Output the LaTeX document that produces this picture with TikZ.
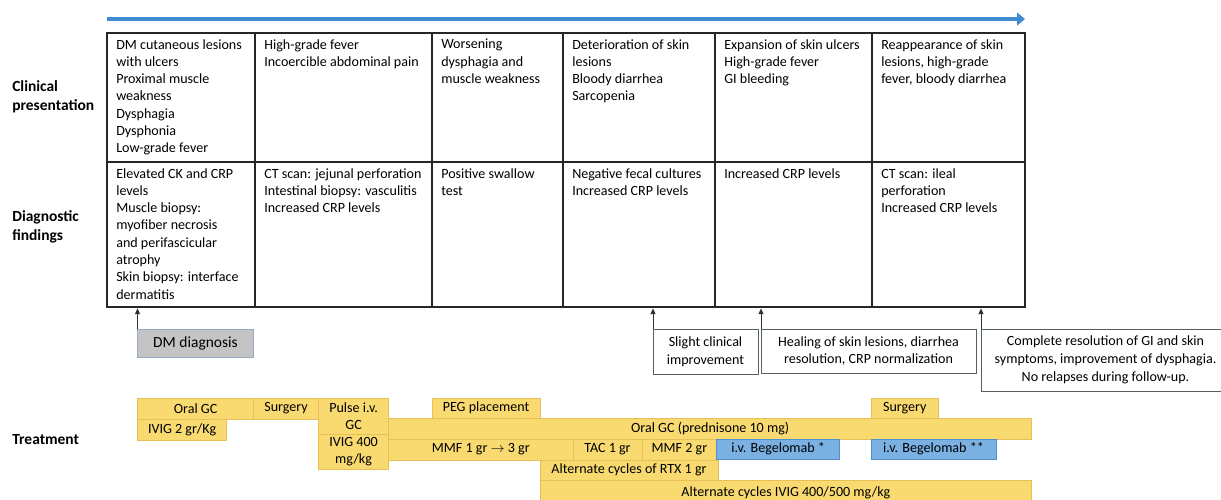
\documentclass[tikz,border=0pt]{standalone}
\usepackage{fontspec}
\setmainfont{Carlito}
\usetikzlibrary{positioning, calc, arrows.meta}

\definecolor{timeblue}{RGB}{66,138,208}
\definecolor{rxyellow}{RGB}{248,218,112}
\definecolor{rxedge}{RGB}{232,190,88}
\definecolor{mabblue}{RGB}{122,176,226}
\definecolor{mabedge}{RGB}{82,144,204}
\definecolor{dxgray}{RGB}{196,196,196}
\definecolor{dxedge}{RGB}{150,170,195}
\definecolor{noteedge}{RGB}{85,95,100}

\begin{document}
\begin{tikzpicture}[x=0.025cm, y=-0.025cm,
  cell/.style={draw=black!85, line width=0.8pt, inner sep=0pt, outer sep=0pt},
  celltext/.style={anchor=north west, align=left, inner sep=0pt, font=\fontsize{10}{12.3}\selectfont},
  rowlbl/.style={anchor=west, align=left, inner sep=0pt, font=\fontsize{11}{13.5}\selectfont\bfseries},
  note/.style={draw=noteedge, line width=0.6pt, align=center, inner sep=0pt, outer sep=0pt, font=\fontsize{10}{12.6}\selectfont},
  rx/.style={draw=rxedge, fill=rxyellow, line width=0.6pt, align=center, inner sep=0pt, outer sep=0pt, font=\fontsize{10}{12}\selectfont},
  mab/.style={rx, draw=mabedge, fill=mabblue},
  tick/.style={-{Triangle[length=4pt, width=3.5pt]}, line width=0.6pt, black!80, shorten >=1pt}]
  \newcommand\pxunit{0.025cm}
  \newcommand\rowonehgt{129}
  \newcommand\rowtwohgt{145}

  \useasboundingbox (0,0) rectangle (1221,499);

  % time line
  \coordinate (tl0) at (107,19);
  \coordinate (tl1) at (1025,19);
  \draw[timeblue, line width=3.5pt, -{Triangle[length=0.2cm, width=0.32cm]}] (tl0) -- (tl1);

  % row labels
  \node[rowlbl] (lblcp) at (12,97) {Clinical\\presentation};
  \node[rowlbl] (lbldx) at (12,227) {Diagnostic\\findings};
  \node[rowlbl] (lblrx) at (12,440) {Treatment};

  % clinical presentation row
  \foreach \xa/\xb/\txt [count=\c] in {
    107/255/{DM cutaneous lesions\\with ulcers\\Proximal muscle\\weakness\\Dysphagia\\Dysphonia\\Low-grade fever},
    255/432/{High-grade fever\\Incoercible abdominal pain},
    432/563/{Worsening\\dysphagia and\\muscle weakness},
    563/715/{Deterioration of skin\\lesions\\Bloody diarrhea\\Sarcopenia},
    715/872/{Expansion of skin ulcers\\High-grade fever\\GI bleeding},
    872/1025/{Reappearance of skin\\lesions, high-grade\\fever, bloody diarrhea}}{
    \node[cell, minimum width=(\xb-\xa)*\pxunit, minimum height=\rowonehgt*\pxunit] (cp\c) at ({(\xa+\xb)/2},97.5) {};
    \node[celltext] (cpt\c) at ([shift={(9,6)}]cp\c.north west) {\txt};
  }

  % diagnostic findings row
  \foreach \xa/\xb/\txt [count=\c] in {
    107/255/{Elevated CK and CRP\\levels\\Muscle biopsy:\\myofiber necrosis\\and perifascicular\\atrophy\\Skin biopsy: interface\\dermatitis},
    255/432/{CT scan: jejunal perforation\\Intestinal biopsy: vasculitis\\Increased CRP levels},
    432/563/{Positive swallow\\test},
    563/715/{Negative fecal cultures\\Increased CRP levels},
    715/872/{Increased CRP levels},
    872/1025/{CT scan: ileal\\perforation\\Increased CRP levels}}{
    \node[cell, minimum width=(\xb-\xa)*\pxunit, minimum height=\rowtwohgt*\pxunit] (dx\c) at ({(\xa+\xb)/2},234.5) {};
    \node[celltext] (dxt\c) at ([shift={(9,6)}]dx\c.north west) {\txt};
  }

  % outcome notes
  \node[note, fill=dxgray, draw=dxedge, font=\fontsize{11}{13}\selectfont, minimum width=116*\pxunit, minimum height=28*\pxunit] (dmdiag) at (195.5,343) {DM diagnosis};
  \node[note, minimum width=105*\pxunit, minimum height=45*\pxunit] (slight) at (705.5,351.5) {Slight clinical\\improvement};
  \node[note, minimum width=215*\pxunit, minimum height=44*\pxunit] (heal) at (868.5,351) {Healing of skin lesions, diarrhea\\resolution, CRP normalization};
  \node[note, minimum width=249*\pxunit, minimum height=62*\pxunit] (done) at (1105.5,360) {Complete resolution of GI and skin\\symptoms, improvement of dysphagia.\\No relapses during follow-up.};

  \draw[tick] (dmdiag.north west) -- (dmdiag.north west |- dx1.south);
  \draw[tick] (slight.north west) -- (slight.north west |- dx4.south);
  \draw[tick] (heal.north west) -- (heal.north west |- dx5.south);
  \draw[tick] (done.north west) -- (done.north west |- dx6.south);

  % treatment bars
  \foreach \nm/\xa/\ya/\xb/\yb/\txt in {
    oralgc/137.5/398/253.6/419/{Oral GC},
    surgone/253.6/398/318.6/419/{Surgery},
    pulse/318.6/398/388.6/434/{Pulse i.v.\\GC},
    ivigtwo/137.5/419/226.8/440/{IVIG 2 gr/Kg},
    ivigfour/318.6/434/388.6/469/{IVIG 400\\mg/kg},
    peg/432/398/540/418/{PEG placement},
    oralpred/388.6/418/1031.7/439/{Oral GC (prednisone 10 mg)},
    mmfone/388.6/439/573/460/{MMF 1 gr $\rightarrow$ 3 gr},
    tac/573/439/642/460/{TAC 1 gr},
    mmftwo/642/439/716.8/460/{MMF 2 gr},
    rtx/540/460/718/480/{Alternate cycles of RTX 1 gr},
    ivigalt/540/480/1031.7/506/{Alternate cycles IVIG 400/500 mg/kg},
    surgtwo/871/398/938.6/418/{Surgery}}{
    \node[rx, minimum width=(\xb-\xa)*\pxunit, minimum height=(\yb-\ya)*\pxunit] (\nm) at ({(\xa+\xb)/2},{(\ya+\yb)/2}) {\txt};
  }
  \node[mab, minimum width=122.8*\pxunit, minimum height=20*\pxunit] (begone) at (778.2,449) {i.v. Begelomab *};
  \node[mab, minimum width=125*\pxunit, minimum height=20*\pxunit] (begtwo) at (933.5,449) {i.v. Begelomab **};
\end{tikzpicture}
\end{document}
